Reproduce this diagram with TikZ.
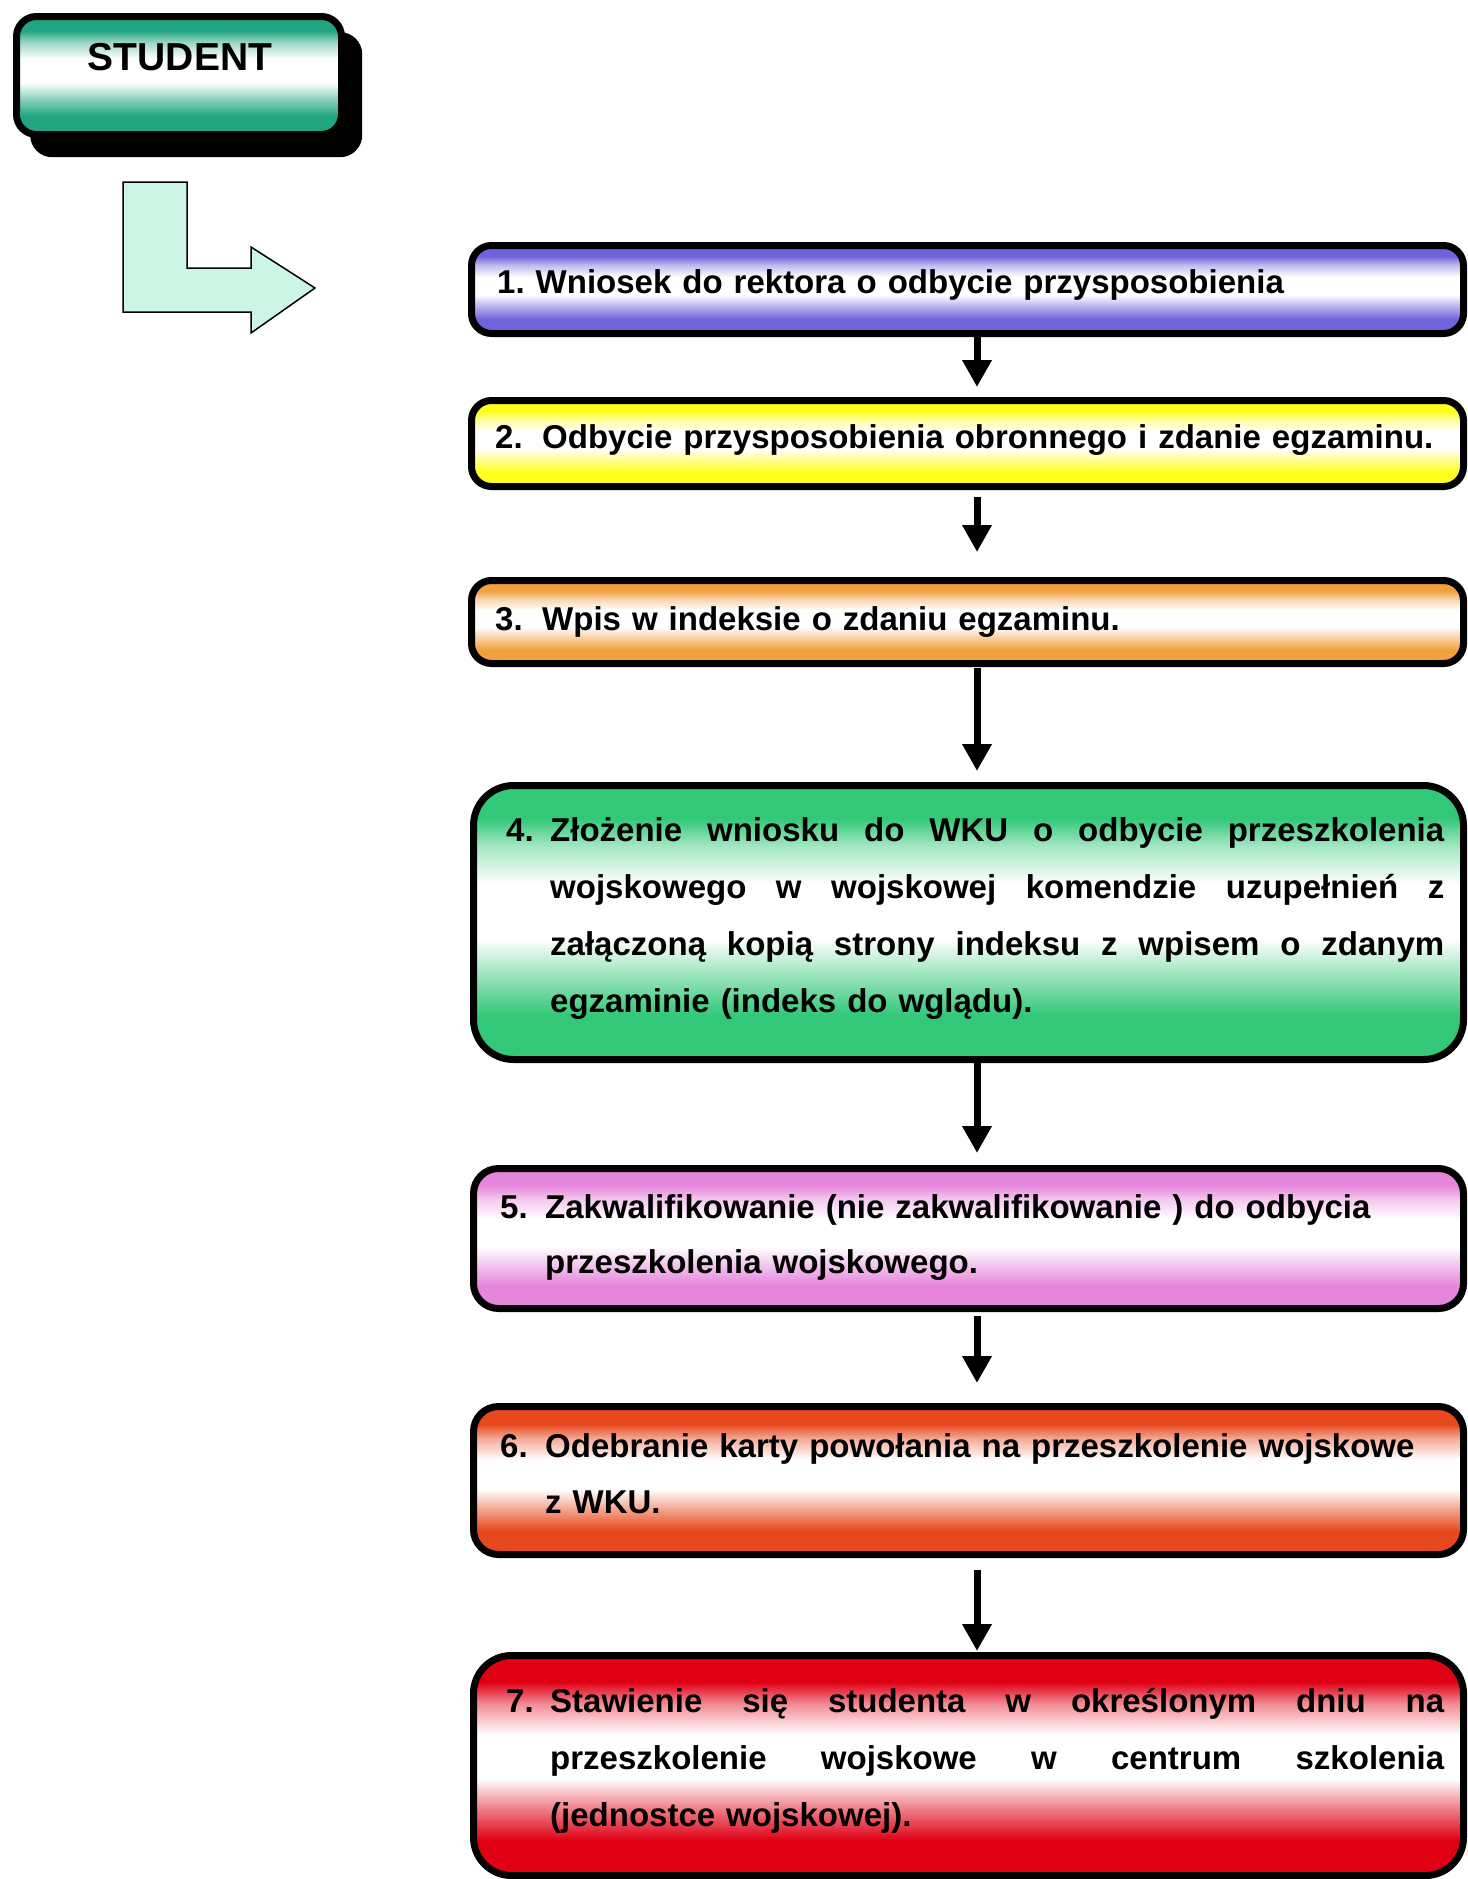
\documentclass[tikz,border=0pt]{standalone}
\usepackage{fontspec}
\setmainfont{Liberation Sans}
\usetikzlibrary{arrows.meta}
\definecolor{cTeal}{HTML}{22A582}
\definecolor{cPurple}{HTML}{7062DA}
\definecolor{cYellow}{HTML}{FFFF1A}
\definecolor{cOrange}{HTML}{F0A03C}
\definecolor{cGreen}{HTML}{32C878}
\definecolor{cPink}{HTML}{E585DC}
\definecolor{cRedOr}{HTML}{E8481E}
\definecolor{cRed}{HTML}{E00014}
\definecolor{cMint}{HTML}{CCF5E6}
\colorlet{pc}{cTeal}\colorlet{pl}{cTeal!45!white}
\pgfdeclareverticalshading[pc,pl]{pipe}{100bp}{color(0bp)=(pc); color(25bp)=(pc); color(33bp)=(pc); color(41bp)=(pl); color(47bp)=(white); color(57bp)=(white); color(64bp)=(pl); color(69bp)=(pc); color(100bp)=(pc)}
\newcommand{\jline}[1]{\hbox to 894pt{#1}}
\begin{document}
\begin{tikzpicture}[x=1pt,y=-1pt,
 pipebox/.style={draw=black, line width=7pt, rounded corners=#1, anchor=north west, inner sep=0pt},
 pipe/.style={/utils/exec={\colorlet{pc}{#1}\colorlet{pl}{#1!45!white}}, shade, shading=pipe},
 txt/.style={anchor=base west, inner sep=0pt, text width=960pt, font=\bfseries\fontsize{33}{57}\selectfont\frenchspacing},
 conn/.style={line width=7pt, -{Triangle[width=28pt,length=27pt]}}]
\fill[white] (0,0) rectangle (1467,1879);
\useasboundingbox (0,0) rectangle (1467,1879);

% STUDENT
\node[fill=black, rounded corners=22pt, minimum width=332pt, minimum height=125pt, anchor=north west, inner sep=0pt] (shadow) at (30,32) {};
\node[pipebox=20pt, pipe=cTeal, minimum width=325pt, minimum height=118pt] (student) at (13,13) {};
\node[font=\bfseries\fontsize{39}{40}\selectfont, anchor=base, inner sep=0pt] (studtxt) at (180,70) {STUDENT};

% L-shaped arrow
\draw[fill=cMint, line width=1.5pt] (123,182) -- (187,182) -- (187,268) -- (251,268) -- (251,247) -- (315,288) -- (251,333) -- (251,312) -- (123,312) -- cycle;

% boxes
\node[pipebox=20pt, pipe=cPurple, minimum width=992pt, minimum height=88pt] (b1) at (468,242) {};
\node[pipebox=20pt, pipe=cYellow, minimum width=992pt, minimum height=86pt] (b2) at (468,397) {};
\node[pipebox=20pt, pipe=cOrange, minimum width=992pt, minimum height=83pt] (b3) at (468,577) {};
\node[pipebox=40pt, pipe=cGreen, minimum width=990pt, minimum height=274pt] (b4) at (470,782) {};
\node[pipebox=25pt, pipe=cPink, minimum width=990pt, minimum height=140pt] (b5) at (470,1165) {};
\node[pipebox=25pt, pipe=cRedOr, minimum width=990pt, minimum height=148pt] (b6) at (470,1403) {};
\node[pipebox=38pt, pipe=cRed, minimum width=990pt, minimum height=220pt] (b7) at (470,1652) {};

% texts
\node[txt] (t1) at (497,293) {1. Wniosek do rektora o odbycie przysposobienia};
\node[txt] (t2) at (495,448) {\makebox[47pt][l]{2.}Odbycie przysposobienia obronnego i zdanie egzaminu.};
\node[txt] (t3) at (495,630) {\makebox[47pt][l]{3.}Wpis w indeksie o zdaniu egzaminu.};
\node[txt] (t4) at (506,841) {\makebox[44pt][l]{4.}\jline{Złożenie\hfill wniosku\hfill do\hfill WKU\hfill o\hfill odbycie\hfill przeszkolenia}\\
\hspace*{44pt}\jline{wojskowego\hfill w\hfill wojskowej\hfill komendzie\hfill uzupełnień\hfill z}\\
\hspace*{44pt}\jline{załączoną\hfill kopią\hfill strony\hfill indeksu\hfill z\hfill wpisem\hfill o\hfill zdanym}\\
\hspace*{44pt}egzaminie (indeks do wglądu).};
\node[txt] (t5) at (500,1218) {\makebox[45pt][l]{5.}Zakwalifikowanie (nie zakwalifikowanie ) do odbycia\\[-2pt]
\hspace*{45pt}przeszkolenia wojskowego.};
\node[txt] (t6) at (500,1457) {\makebox[45pt][l]{6.}Odebranie karty powołania na przeszkolenie wojskowe\\[-1pt]
\hspace*{45pt}z WKU.};
\node[txt] (t7) at (506,1712) {\makebox[44pt][l]{7.}\jline{Stawienie\hfill się\hfill studenta\hfill w\hfill określonym\hfill dniu\hfill na}\\
\hspace*{44pt}\jline{przeszkolenie\hfill wojskowe\hfill w\hfill centrum\hfill szkolenia}\\
\hspace*{44pt}(jednostce wojskowej).};

% connectors
\coordinate (ax) at (977,0);
\draw[conn, shorten >=10pt] (b1.south -| ax) -- (b2.north -| ax);
\draw[conn, shorten <=7pt, shorten >=25pt] (b2.south -| ax) -- (b3.north -| ax);
\draw[conn, shorten <=1pt, shorten >=11pt] (b3.south -| ax) -- (b4.north -| ax);
\draw[conn, shorten >=12pt] (b4.south -| ax) -- (b5.north -| ax);
\draw[conn, shorten <=4pt, shorten >=20pt] (b5.south -| ax) -- (b6.north -| ax);
\draw[conn, shorten <=12pt, shorten >=1pt] (b6.south -| ax) -- (b7.north -| ax);
\end{tikzpicture}
\end{document}
